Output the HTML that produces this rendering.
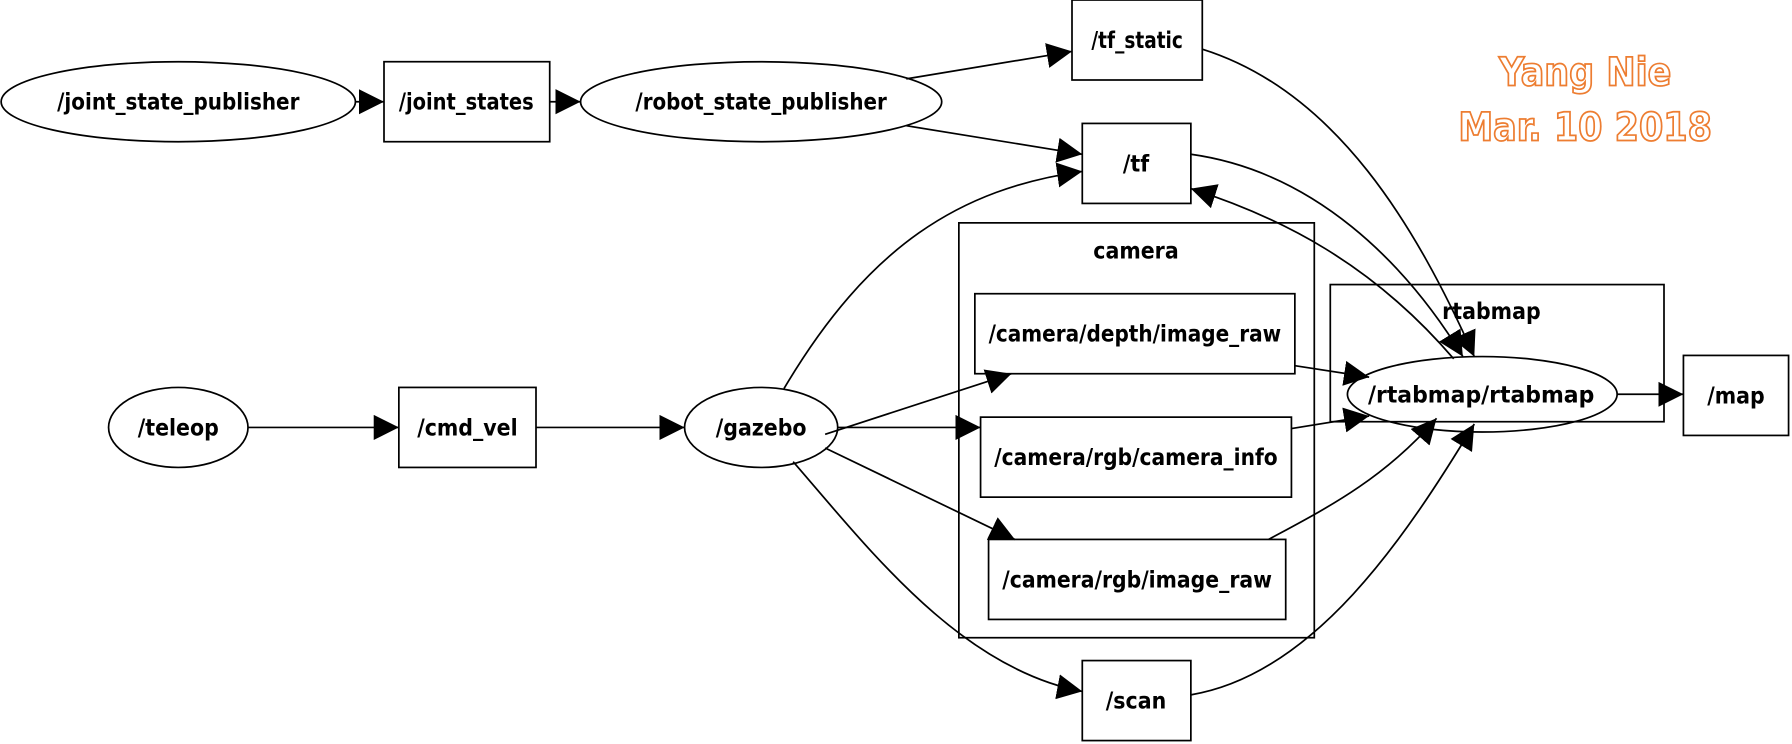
<!DOCTYPE html>
<html><head><meta charset="utf-8"><style>
html,body{margin:0;padding:0;background:#fff;width:1792px;height:744px;overflow:hidden}
svg text{font-family:"DejaVu Sans","Liberation Sans",sans-serif;font-weight:bold;font-stretch:condensed}
</style></head><body>
<svg width="1792" height="744" viewBox="0 0 1568 651" xmlns="http://www.w3.org/2000/svg">
<defs>
<marker id="a" viewBox="0 0 10 10" refX="10" refY="5" markerWidth="22" markerHeight="22" markerUnits="userSpaceOnUse" orient="auto">
<path d="M0,0 L10,5 L0,10 z" fill="#000"/></marker>
</defs>
<g fill="none" stroke="#000" stroke-width="1.5">
<rect x="839" y="195" width="311" height="363"/>
<rect x="1164" y="249" width="292" height="120"/>
<ellipse cx="156" cy="89" rx="155" ry="35"/>
<rect x="336" y="54" width="145" height="70"/>
<ellipse cx="666" cy="89" rx="158" ry="35"/>
<rect x="938" y="0" width="114" height="70"/>
<rect x="947" y="108" width="95" height="70"/>
<rect x="853" y="257" width="280" height="70"/>
<rect x="858" y="365" width="272" height="70"/>
<rect x="865" y="472" width="260" height="70"/>
<ellipse cx="1297" cy="345" rx="118" ry="33"/>
<rect x="1473" y="311" width="92" height="70"/>
<ellipse cx="156" cy="374" rx="61" ry="35"/>
<rect x="349" y="339" width="120" height="70"/>
<ellipse cx="666" cy="374" rx="67" ry="35"/>
<rect x="947" y="578" width="95" height="70"/>
</g>
<g fill="none" stroke="#000" stroke-width="1.5" marker-end="url(#a)">
<path d="M311,89 L336,89"/>
<path d="M481,89 L508,89"/>
<path d="M793,69 L938,45"/>
<path d="M793,110 L947,135"/>
<path d="M686,340 C760,215 840,165 947,150"/>
<path d="M1052,43 C1170,80 1240,200 1290,312"/>
<path d="M1042,135 C1150,150 1230,230 1280,312"/>
<path d="M1272,314 C1200,230 1120,190 1042,165"/>
<path d="M1133,320 L1198,330"/>
<path d="M1130,375 L1198,364"/>
<path d="M1110,472 C1160,445 1210,420 1257,366"/>
<path d="M1042,608 C1150,590 1230,470 1290,371"/>
<path d="M1415,345 L1473,345"/>
<path d="M217,374 L349,374"/>
<path d="M469,374 L599,374"/>
<path d="M722,380 L885,327"/>
<path d="M733,374 L858,374"/>
<path d="M722,392 L888,472"/>
<path d="M694,404 C760,480 840,585 947,605"/>
</g>
<g font-size="20" text-anchor="middle" fill="#000">
<text x="156" y="96" textLength="212" lengthAdjust="spacingAndGlyphs">/joint_state_publisher</text>
<text x="408" y="96" textLength="118" lengthAdjust="spacingAndGlyphs">/joint_states</text>
<text x="666" y="96" textLength="220" lengthAdjust="spacingAndGlyphs">/robot_state_publisher</text>
<text x="995" y="42" textLength="80" lengthAdjust="spacingAndGlyphs">/tf_static</text>
<text x="994" y="150">/tf</text>
<text x="994" y="226">camera</text>
<text x="993" y="299" textLength="256" lengthAdjust="spacingAndGlyphs">/camera/depth/image_raw</text>
<text x="994" y="407" textLength="248" lengthAdjust="spacingAndGlyphs">/camera/rgb/camera_info</text>
<text x="995" y="514" textLength="236" lengthAdjust="spacingAndGlyphs">/camera/rgb/image_raw</text>
<text x="1305" y="279" font-weight="normal">rtabmap</text>
<text x="1296" y="352" textLength="198" lengthAdjust="spacingAndGlyphs">/rtabmap/rtabmap</text>
<text x="1519" y="353">/map</text>
<text x="156" y="381">/teleop</text>
<text x="409" y="381">/cmd_vel</text>
<text x="666" y="381">/gazebo</text>
<text x="994" y="620">/scan</text>
</g>
<g font-size="34" text-anchor="middle" fill="#fff" stroke="#ed7d31" stroke-width="1.5">
<text x="1387" y="75">Yang Nie</text>
<text x="1387" y="123">Mar. 10 2018</text>
</g>
</svg>
</body></html>
